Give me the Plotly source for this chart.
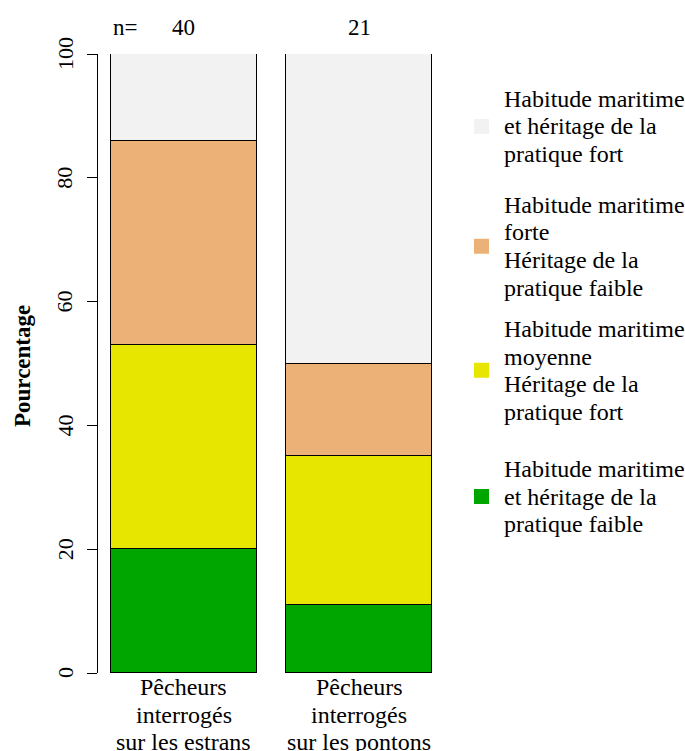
import plotly.graph_objects as go

# Data --------------------------------------------------------------------
categories = ["Pêcheurs\ninterrogés\nsur les estrans",
              "Pêcheurs\ninterrogés\nsur les pontons"]
n_counts = [40, 21]

# stacked from bottom to top
series_labels = [
    "Habitude maritime\net héritage de la\npratique faible",
    "Habitude maritime\nmoyenne\nHéritage de la\npratique fort",
    "Habitude maritime\nforte\nHéritage de la\npratique faible",
    "Habitude maritime\net héritage de la\npratique fort",
]
series_values = [
    [20, 11],
    [33, 24],
    [33, 15],
    [14, 50],
]
series_colors = ["#00A600", "#E6E600", "#ECB176", "#F2F2F2"]

y_ticks = [0, 20, 40, 60, 80, 100]

# Layout ------------------------------------------------------------------
W, H = 685, 751
ML, MR, MT, MB = 98, 240, 54, 78
PW, PH = W - ML - MR, H - MT - MB
FONT = "'Times New Roman', 'Liberation Serif', serif"
bar_pos = [0.7, 1.9]
LINE_H = 27.5


def px_x(px):
    return (px - ML) / PW


def px_y(py):
    return (H - MB - py) / PH


fig = go.Figure()
for label, vals, col in zip(series_labels, series_values, series_colors):
    fig.add_trace(go.Bar(
        x=bar_pos, y=vals, width=1.0, name=label.replace("\n", " "),
        marker=dict(color=col, line=dict(color="black", width=1)),
        showlegend=False, hoverinfo="y",
    ))

annotations = []
shapes = []

# rotated y tick labels, centred on their ticks
for t in y_ticks:
    annotations.append(dict(
        x=px_x(65), xref="paper", y=t, yref="y", text=str(t),
        showarrow=False, textangle=-90, xanchor="center", yanchor="middle",
        font=dict(family=FONT, size=22, color="black"),
    ))

# category labels under the bars
for xpos, cat in zip(bar_pos, categories):
    for i, line in enumerate(cat.split("\n")):
        annotations.append(dict(
            x=xpos, xref="x", y=px_y(687 + i * LINE_H), yref="paper",
            text=line, showarrow=False, xanchor="center", yanchor="middle",
            font=dict(family=FONT, size=24, color="black"),
        ))

# counts above the bars
annotations.append(dict(
    x=px_x(125), xref="paper", y=px_y(28), yref="paper", text="n=",
    showarrow=False, xanchor="center", yanchor="middle",
    font=dict(family=FONT, size=23, color="black"),
))
for xpos, n in zip(bar_pos, n_counts):
    annotations.append(dict(
        x=xpos, xref="x", y=px_y(28), yref="paper", text=str(n),
        showarrow=False, xanchor="center", yanchor="middle",
        font=dict(family=FONT, size=23, color="black"),
    ))

# y-axis title
annotations.append(dict(
    x=px_x(23), xref="paper", y=px_y(366), yref="paper",
    text="<b>Pourcentage</b>",
    showarrow=False, textangle=-90, xanchor="center", yanchor="middle",
    font=dict(family=FONT, size=23, color="black"),
))

# legend, top item first
legend_first_line = [99, 205, 329, 469]
for top, label, col in zip(legend_first_line,
                           reversed(series_labels), reversed(series_colors)):
    lines = label.split("\n")
    for i, line in enumerate(lines):
        annotations.append(dict(
            x=px_x(502), xref="paper", y=px_y(top + i * LINE_H), yref="paper",
            text=line, showarrow=False, xanchor="left", yanchor="middle",
            font=dict(family=FONT, size=24, color="black"),
        ))
    cy = top + (len(lines) - 1) * LINE_H / 2
    shapes.append(dict(
        type="rect", xref="paper", yref="paper",
        x0=px_x(474), x1=px_x(489), y0=px_y(cy - 7.5), y1=px_y(cy + 7.5),
        fillcolor=col, line=dict(width=0),
    ))

fig.update_layout(
    width=W, height=H, barmode="stack", bargap=0,
    margin=dict(l=ML, r=MR, t=MT, b=MB, pad=0),
    paper_bgcolor="white", plot_bgcolor="white",
    font=dict(family=FONT, size=22, color="black"),
    annotations=annotations, shapes=shapes,
    xaxis=dict(range=[0.112, 2.488], showticklabels=False, showgrid=False,
               zeroline=False, showline=False, ticks=""),
    yaxis=dict(range=[0, 100], tickvals=y_ticks, ticks="outside", ticklen=10,
               tickcolor="black", tickwidth=1, showline=True, linecolor="black",
               linewidth=1, showgrid=False, zeroline=False,
               showticklabels=False),
)

fig.write_html("out.html")
